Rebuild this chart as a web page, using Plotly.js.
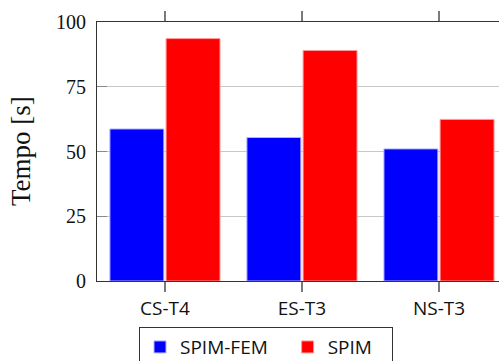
<!DOCTYPE html>
<html>
<head>
<meta charset="utf-8">
<script src="https://cdn.plot.ly/plotly-3.0.1.min.js"></script>
<style>html,body{margin:0;padding:0;overflow:hidden;background:#fff}#chart{width:499px;height:361px}</style>
</head>
<body>
<div id="chart"></div>
<script>
const categories = ["CS-T4", "ES-T3", "NS-T3"];
const spimFem = [58.7, 55.4, 51.0];
const spim = [93.6, 89.0, 62.4];
const seriesNames = ["SPIM-FEM", "SPIM"];
const yTicks = [0, 25, 50, 75, 100];
const NB = "\u00a0";

const traces = [
  {type: "bar", name: seriesNames[0] + NB + NB + NB, x: categories, y: spimFem,
   marker: {color: "#0000ff", line: {color: "#b4b4ff", width: 1}}},
  {type: "bar", name: seriesNames[1] + NB + NB + NB, x: categories, y: spim,
   marker: {color: "#ff0000", line: {color: "#ff9a9a", width: 1}}}
];

const xRange = [-0.496, 2.438];

const layout = {
  width: 499, height: 361,
  margin: {l: 97, r: 0, t: 22, b: 80, autoexpand: false},
  paper_bgcolor: "#fff", plot_bgcolor: "#fff",
  barmode: "group", bargap: 0.18, bargroupgap: 0.04,
  showlegend: true,
  legend: {orientation: "h", x: 0.1045, xanchor: "left", y: -0.178, yanchor: "top",
           bordercolor: "#333", borderwidth: 1, bgcolor: "#fff",
           font: {family: "Open Sans", size: 19, color: "#111"}},
  xaxis: {type: "category", range: xRange, showgrid: false,
          showline: true, linecolor: "#333", linewidth: 1, mirror: "allticks",
          ticks: "outside", ticklen: 10, tickcolor: "#7a7a7a", tickwidth: 1.4,
          tickfont: {family: "Open Sans", size: 19, color: "#111"}, fixedrange: true},
  yaxis: {range: [0, 100], tickvals: yTicks, showgrid: true, gridcolor: "#c8c8c8", gridwidth: 1,
          showline: true, linecolor: "#333", linewidth: 1, zeroline: false,
          ticks: "inside", ticklen: 10, tickcolor: "#888", tickwidth: 1, ticklabelstandoff: 6,
          tickfont: {family: "Liberation Serif", size: 20, color: "#111"}, fixedrange: true},
  annotations: [{text: "Tempo [s]", xref: "paper", yref: "paper", x: -0.19, y: 0.5,
                 xanchor: "center", yanchor: "middle", textangle: -90, showarrow: false,
                 font: {family: "Liberation Serif", size: 27, color: "#111"}}]
};

Plotly.newPlot("chart", traces, layout, {staticPlot: true, displayModeBar: false});
</script>
</body>
</html>
